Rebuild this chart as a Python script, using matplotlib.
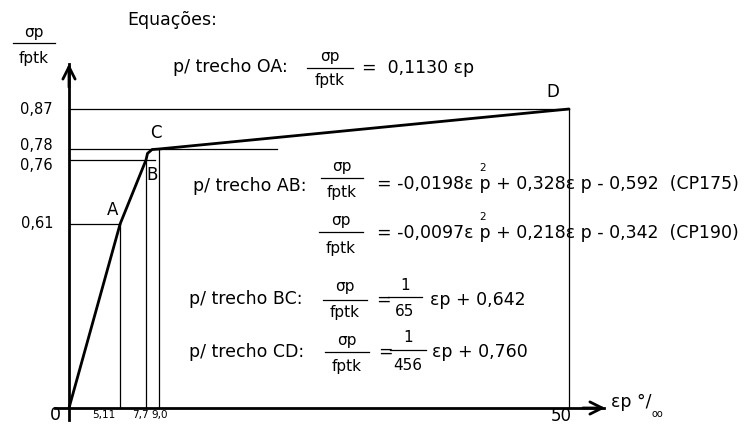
import matplotlib
matplotlib.use('Agg')
import matplotlib.pyplot as plt
from matplotlib.lines import Line2D
import numpy as np

plt.rcParams['font.family'] = ['DejaVu Sans']

# diagram values (strain in per mil, stress ratio)
curve_x = [0, 5.11, 7.7, 7.85, 8.3, 9.0, 50]
curve_y = [0, 0.61, 0.76, 0.772, 0.779, 0.78, 0.87]
y_ticks = [0.61, 0.76, 0.78, 0.87]
y_tick_labels = ['0,61', '0,76', '0,78', '0,87']
x_ticks = [5.11, 7.7, 9.0]
x_tick_labels = ['5,11', '7,7', '9,0']
x_end = 50
# reference lines: horizontal (level, length) and vertical (position, height)
h_levels = [0.87, 0.78, 0.76, 0.61]
h_lengths = [50, 20.8, 8.6, 5.11]
v_pos = [5.11, 7.7, 9.0, 50]
v_tops = [0.61, 0.76, 0.78, 0.87]
pt_names = ['A', 'B', 'C', 'D']
pt_x = [5.11, 7.7, 9.0, 50]
pt_y = [0.61, 0.76, 0.78, 0.87]

W, H = 750, 425
fig = plt.figure(figsize=(7.5, 4.25), dpi=100)
fig.patch.set_facecolor('white')


def px(x, y):
    return x / W, 1 - y / H


# schematic (non linear) vertical scale, like the original sketch
yk = np.array([0, 0.61, 0.76, 0.78, 0.87])
yp = np.array([0, 184, 248, 259, 299.0])
s_lo = (yp[1] - yp[0]) / (yk[1] - yk[0])
s_hi = (yp[-1] - yp[-2]) / (yk[-1] - yk[-2])


def fwd(v):
    v = np.asarray(v, float)
    out = np.interp(v, yk, yp)
    out = np.where(v < yk[0], yp[0] + (v - yk[0]) * s_lo, out)
    out = np.where(v > yk[-1], yp[-1] + (v - yk[-1]) * s_hi, out)
    return out


def inv(p):
    p = np.asarray(p, float)
    out = np.interp(p, yp, yk)
    out = np.where(p < yp[0], yk[0] + (p - yp[0]) / s_lo, out)
    out = np.where(p > yp[-1], yk[-1] + (p - yp[-1]) / s_hi, out)
    return out


ax = fig.add_axes([69 / W, (H - 408) / H, 500 / W, 299 / H])
ax.set_yscale('function', functions=(fwd, inv))
ax.set_xlim(0, x_end)
ax.set_ylim(0, 0.87)
ax.axis('off')

# thin guide lines
for lv, ln in zip(h_levels, h_lengths):
    ax.plot([0, ln], [lv, lv], color='k', lw=0.9, clip_on=False)
for vx, vt in zip(v_pos, v_tops):
    ax.plot([vx, vx], [0, vt], color='k', lw=0.9, clip_on=False)

# stress-strain curve
ax.plot(curve_x, curve_y, color='k', lw=2.0, solid_capstyle='round', clip_on=False)

# axes with arrows
fig.add_artist(Line2D(*zip(px(69, 420), px(69, 64)), transform=fig.transFigure, color='k', lw=2.0))
ax.annotate('', xy=px(69, 61), xytext=px(69, 90), xycoords='figure fraction',
            arrowprops=dict(arrowstyle='->', lw=2.0, color='k', mutation_scale=22))
fig.add_artist(Line2D(*zip(px(55, 408), px(604, 408)), transform=fig.transFigure, color='k', lw=2.0))
ax.annotate('', xy=px(608, 408), xytext=px(580, 408), xycoords='figure fraction',
            arrowprops=dict(arrowstyle='->', lw=2.0, color='k', mutation_scale=22))

fs = 12.5   # equation text
ff = 11     # fractions
# y tick labels
y_off = {0.87: -1, 0.78: 3, 0.76: -5, 0.61: 1}
for v, lab in zip(y_ticks, y_tick_labels):
    ax.annotate(lab, xy=(0, v), xytext=(-16, y_off[v]), textcoords='offset pixels',
                ha='right', va='center', fontsize=10.5)
# x tick labels
x_off = [-16, -6, 1]
for v, lab, o in zip(x_ticks, x_tick_labels, x_off):
    ax.annotate(lab, xy=(v, 0), xytext=(o, -7), textcoords='offset pixels',
                ha='center', va='center', fontsize=7.5)
ax.annotate('50', xy=(x_end, 0), xytext=(-8, -8), textcoords='offset pixels',
            ha='center', va='center', fontsize=12)
ax.annotate('0', xy=(0, 0), xytext=(-14, -7), textcoords='offset pixels',
            ha='center', va='center', fontsize=12.5)

# point labels
pt_off = [(-8, 14), (6, -15), (-3, 16), (-16, 17)]
for n, x, y, o in zip(pt_names, pt_x, pt_y, pt_off):
    ax.annotate(n, xy=(x, y), xytext=o, textcoords='offset pixels',
                ha='center', va='center', fontsize=12)

# axis title on x
t = fig.text(*px(611, 402), 'εp °/', fontsize=fs, ha='left', va='center')
ax.annotate('oo', xy=(1, 0), xycoords=t, xytext=(0, -3), textcoords='offset pixels',
            ha='left', va='center', fontsize=7)


def frac(cx, yn, yb, yd, half, num='σp', den='fptk', size=ff):
    fig.text(*px(cx, yn), num, fontsize=size, ha='center', va='center')
    fig.text(*px(cx, yd), den, fontsize=size, ha='center', va='center')
    fig.add_artist(Line2D(*zip(px(cx - half, yb), px(cx + half, yb)),
                          transform=fig.transFigure, color='k', lw=0.9))


def eq_sq(x, y, first, rest):
    # term "ε p" with the square written above the p
    t1 = fig.text(*px(x, y), first, fontsize=fs, ha='left', va='center')
    ax.annotate(rest, xy=(1, 0), xycoords=t1, ha='left', va='bottom', fontsize=fs)
    ax.annotate('2', xy=(1, 1), xycoords=t1, xytext=(9, 2), textcoords='offset pixels',
                ha='center', va='bottom', fontsize=7.5)


frac(34, 32, 43, 59, 21)
fig.text(*px(127, 20), 'Equações:', fontsize=fs, ha='left', va='center')

# OA
fig.text(*px(173, 67), 'p/ trecho OA:', fontsize=fs, ha='left', va='center')
frac(330, 57, 68, 81, 23)
fig.text(*px(362, 68), '=  0,1130 εp', fontsize=fs, ha='left', va='center')

# AB
fig.text(*px(193, 186), 'p/ trecho AB:', fontsize=fs, ha='left', va='center')
frac(342, 167, 178, 193, 21)
eq_sq(377, 184, '= -0,0198ε', ' p + 0,328ε p - 0,592  (CP175)')
frac(341, 221, 232, 248, 22)
eq_sq(377, 233, '= -0,0097ε', ' p + 0,218ε p - 0,342  (CP190)')

# BC
fig.text(*px(189, 299), 'p/ trecho BC:', fontsize=fs, ha='left', va='center')
frac(345, 287, 300, 313, 22)
fig.text(*px(376, 300), '=', fontsize=fs, ha='left', va='center')
frac(405, 285, 297, 312, 17, num='1', den='65')
fig.text(*px(430, 300), 'εp + 0,642', fontsize=fs, ha='left', va='center')

# CD
fig.text(*px(189, 352), 'p/ trecho CD:', fontsize=fs, ha='left', va='center')
frac(347, 340, 352, 367, 22)
fig.text(*px(378, 352), '=', fontsize=fs, ha='left', va='center')
frac(408, 338, 350, 365, 18, num='1', den='456')
fig.text(*px(432, 352), 'εp + 0,760', fontsize=fs, ha='left', va='center')

fig.savefig('out.png', dpi=100, facecolor='white')
